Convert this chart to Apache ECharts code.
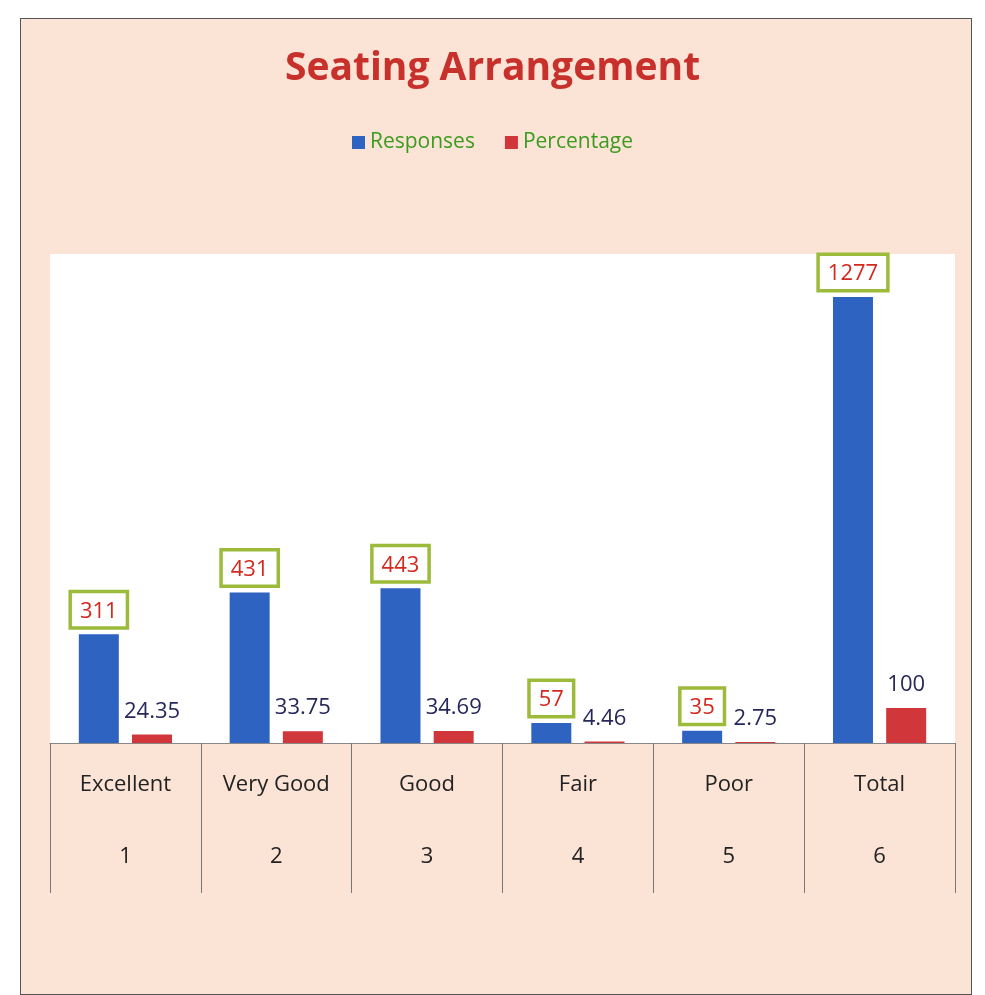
<!DOCTYPE html>
<html>
<head>
<meta charset="utf-8">
<title>Seating Arrangement</title>
<script src="https://cdn.jsdelivr.net/npm/echarts@6/dist/echarts.min.js"></script>
<style>
  html, body { margin: 0; padding: 0; background: #ffffff; }
  .frame {
    position: absolute;
    left: 20px; top: 18px;
    width: 950px; height: 975px;
    background: #fbe3d6;
    border: 1px solid #555;
  }
  #chart {
    position: absolute;
    left: 0; top: 0;
    width: 985px; height: 995px;
  }
</style>
</head>
<body>
<div class="frame"></div>
<div id="chart"></div>
<script>
// 数据
const categories = ['Excellent', 'Very Good', 'Good', 'Fair', 'Poor', 'Total'];
const indices = ['1', '2', '3', '4', '5', '6'];
const responses = [311, 431, 443, 57, 35, 1277];
const percentage = [24.35, 33.75, 34.69, 4.46, 2.75, 100];

const chart = echarts.init(document.getElementById('chart'));
const font = '"Open Sans", "Liberation Sans", sans-serif';

const option = {
  backgroundColor: 'transparent',
  textStyle: { fontFamily: font },
  title: {
    text: 'Seating Arrangement',
    left: 'center',
    top: 44,
    textStyle: {
      fontFamily: font,
      fontSize: 39,
      fontWeight: 'bold',
      color: '#c8302b'
    }
  },
  legend: {
    top: 127,
    left: 'center',
    icon: 'rect',
    itemWidth: 13,
    itemHeight: 13,
    itemGap: 30,
    textStyle: { fontFamily: font, fontSize: 21, color: '#3c9a1e' }
  },
  grid: {
    left: 50,
    right: 30,
    top: 254,
    bottom: 252,
    show: true,
    backgroundColor: '#ffffff',
    borderWidth: 0
  },
  xAxis: {
    type: 'category',
    data: categories.map((c, i) => c + '|' + indices[i]),
    axisLine: { show: true, lineStyle: { color: '#888', width: 1 } },
    axisTick: { show: true, length: 150, lineStyle: { color: '#777', width: 1 } },
    axisLabel: {
      margin: 22,
      interval: 0,
      formatter: v => {
        const [name, idx] = v.split('|');
        return '{n|' + name + '}\n{i|' + idx + '}';
      },
      rich: {
        n: { fontFamily: font, fontSize: 22, color: '#222', lineHeight: 40 },
        i: { fontFamily: font, fontSize: 22, color: '#222', lineHeight: 104 }
      }
    }
  },
  yAxis: {
    type: 'value',
    min: 0,
    max: 1400,
    show: false,
    splitLine: { show: false }
  },
  series: [
    {
      name: 'Responses',
      type: 'bar',
      data: responses,
      barWidth: 40,
      barGap: '33%',
      itemStyle: { color: '#2f63c1' },
      label: {
        show: true,
        position: 'top',
        distance: 8,
        fontFamily: font,
        fontSize: 22,
        color: '#d3291f',
        backgroundColor: '#ffffff',
        borderColor: '#9dbb3a',
        borderWidth: 3.5,
        padding: [7, 8, 4, 8]
      }
    },
    {
      name: 'Percentage',
      type: 'bar',
      data: percentage,
      barWidth: 40,
      itemStyle: { color: '#d1363a' },
      label: {
        show: true,
        position: 'top',
        distance: 12,
        fontFamily: font,
        fontSize: 22,
        color: '#27285a'
      }
    }
  ]
};

chart.setOption(option);
window.addEventListener('resize', () => chart.resize());
</script>
</body>
</html>
